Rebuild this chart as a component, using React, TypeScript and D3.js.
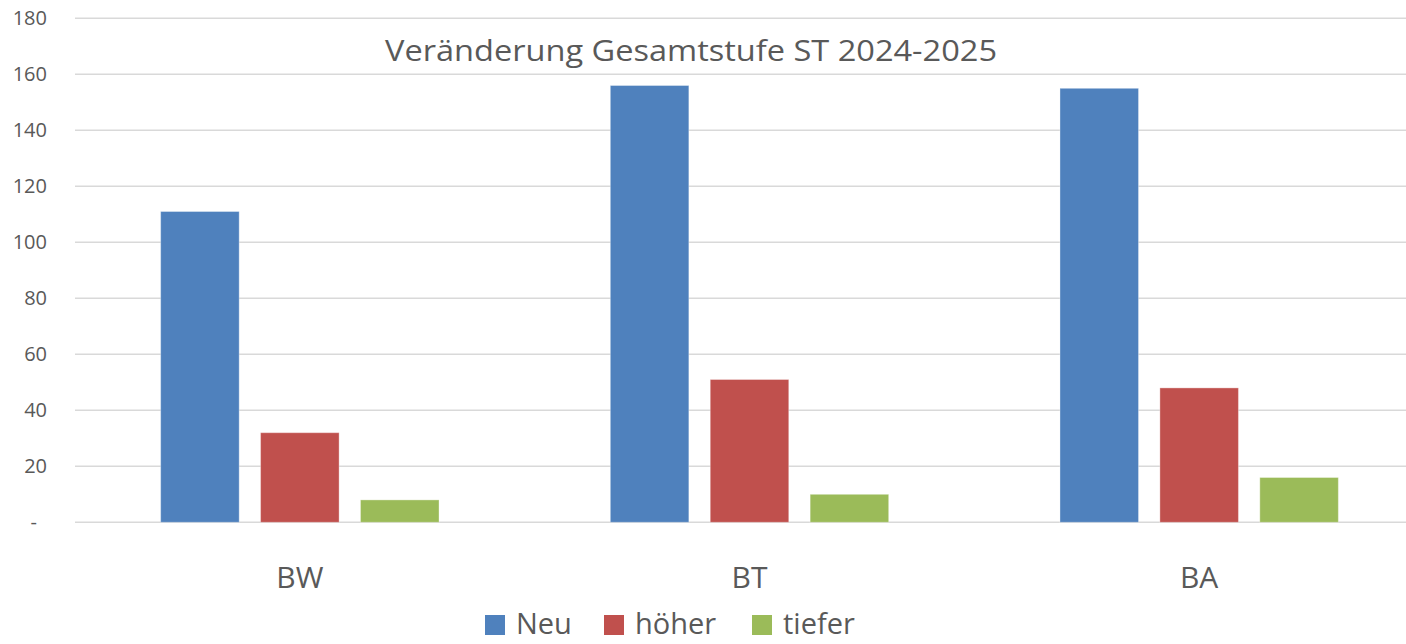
import React from 'react';
import * as d3 from 'd3';

const categories = ['BW', 'BT', 'BA'];
const seriesNames = ['Neu', 'höher', 'tiefer'];
const neuValues = [111, 156, 155];
const hoeherValues = [32, 51, 48];
const tieferValues = [8, 10, 16];
const yTicks = [0, 20, 40, 60, 80, 100, 120, 140, 160, 180];
const colors = ['#4f81bd', '#c0504d', '#9bbb59'];

const W = 1406;
const H = 644;
const FONT = "'Open Sans', 'Noto Sans', sans-serif";

export default function App() {
  const seriesValues = [neuValues, hoeherValues, tieferValues];

  // plot area, the right edge runs past the picture like in the original
  const x0 = d3.scaleBand<string>().domain(categories).range([75, 1424]).padding(0);
  const gw = x0.bandwidth();
  const x1 = d3
    .scaleBand<string>()
    .domain(seriesNames)
    .range([gw * 0.1667, gw * 0.8333])
    .paddingInner(0.214)
    .paddingOuter(0.107);
  const y = d3.scaleLinear().domain([0, 180]).range([522.3, 18.3]);

  const legendX = [485, 604, 752];

  return (
    <svg width={W} height={H} style={{ position: 'absolute', left: 0, top: 0, background: '#fff' }}>
      <rect width={W} height={H} fill="#fff" />
      {/* gridlines */}
      {yTicks.map((t) => (
        <line key={t} x1={75} x2={W} y1={y(t)} y2={y(t)} stroke="#d9d9d9" strokeWidth={1.5} />
      ))}
      {/* y tick labels */}
      {yTicks.map((t) => (
        <text
          key={'l' + t}
          x={t === 0 ? 37 : 47}
          y={y(t)}
          dy="0.35em"
          textAnchor="end"
          fontFamily={FONT}
          fontSize={20}
          fill="#595959"
        >
          {t === 0 ? '-' : t}
        </text>
      ))}
      {/* bars */}
      {categories.map((c, ci) => (
        <g key={c} transform={`translate(${x0(c)},0)`}>
          {seriesNames.map((s, si) => {
            const v = seriesValues[si][ci];
            return (
              <rect
                key={s}
                x={x1(s)}
                y={y(v)}
                width={x1.bandwidth()}
                height={y(0) - y(v)}
                fill={colors[si]}
                stroke="#ffffff"
                strokeOpacity={0.35}
                strokeWidth={1}
              />
            );
          })}
        </g>
      ))}
      {/* category labels */}
      {categories.map((c) => (
        <text
          key={'c' + c}
          x={(x0(c) as number) + gw / 2}
          y={588}
          textAnchor="middle"
          fontFamily={FONT}
          fontSize={30}
          fill="#595959"
        >
          {c}
        </text>
      ))}
      {/* title */}
      <text
        x={691}
        y={61}
        textAnchor="middle"
        fontFamily={FONT}
        fontSize={30}
        fill="#595959"
        textLength={612}
        lengthAdjust="spacingAndGlyphs"
      >
        Veränderung Gesamtstufe ST 2024-2025
      </text>
      {/* legend */}
      {seriesNames.map((s, i) => (
        <g key={'lg' + s} transform={`translate(${legendX[i]},0)`}>
          <rect x={0} y={615} width={20} height={20} fill={colors[i]} />
          <text x={31} y={634} fontFamily={FONT} fontSize={29} fill="#595959">
            {s}
          </text>
        </g>
      ))}
    </svg>
  );
}
